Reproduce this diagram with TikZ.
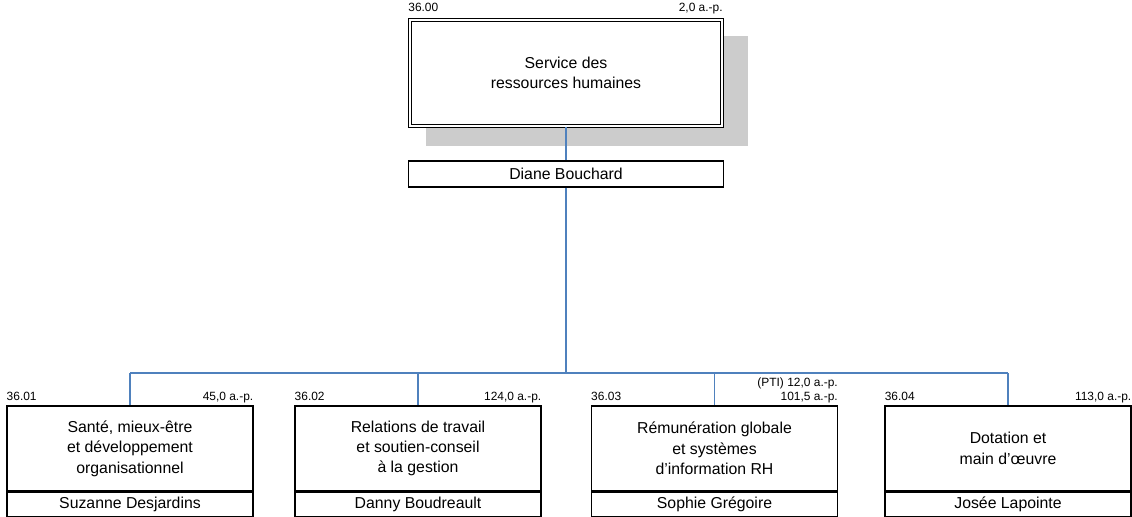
\documentclass[tikz,border=0pt]{standalone}
\usepackage{fontspec}
\setmainfont{Liberation Sans}
\usetikzlibrary{shadows}
\definecolor{linkblue}{RGB}{79,129,189}
\definecolor{shadowgray}{RGB}{204,204,204}

\begin{document}
\begin{tikzpicture}[
    unitbox/.style={draw, line width=0.7pt, minimum width=4.92cm, minimum height=1.70cm, align=center, inner sep=0pt, font=\fontsize{9}{11.6}\selectfont},
    namebox/.style={draw, line width=0.7pt, minimum width=4.92cm, minimum height=0.48cm, inner sep=0pt, font=\fontsize{9}{11}\selectfont},
    codelabel/.style={inner sep=0pt, font=\fontsize{6.8}{8}\selectfont},
    link/.style={draw=linkblue, line width=0.8pt}]
  \useasboundingbox (0,0) rectangle (22.64,-10.34);
  % direction
  \node (hr) at (11.32,-1.46) [draw, fill=white, double, double distance=1.2pt, line width=0.7pt, minimum width=6.24cm, minimum height=2.12cm, align=center, font=\fontsize{9}{11.6}\selectfont,
    drop shadow={shadow xshift=0.41cm, shadow yshift=-0.35cm, shadow scale=1.03, fill=shadowgray, opacity=1}] {Service des\\ressources humaines};
  \node (hrcode) [codelabel, anchor=base west] at (8.16,-0.24) {36.00};
  \node (hrap) [codelabel, anchor=base east] at (14.46,-0.24) {2,0 a.-p.};
  \node (boss) at (11.32,-3.48) [draw, line width=0.7pt, minimum width=6.30cm, minimum height=0.52cm, inner sep=0pt, font=\fontsize{9}{11}\selectfont] {Diane Bouchard};
  % divisions
  \node (sante) at (2.60,-8.97) [unitbox] {Santé, mieux-être\\et développement\\organisationnel};
  \node (sante-n) [namebox, anchor=north] at (sante.south) {Suzanne Desjardins};
  \node (relations) at (8.36,-8.97) [unitbox] {Relations de travail\\et soutien-conseil\\à la gestion};
  \node (relations-n) [namebox, anchor=north] at (relations.south) {Danny Boudreault};
  \node (remun) at (14.29,-8.97) [unitbox] {Rémunération globale\\et systèmes\\d’information RH};
  \node (remun-n) [namebox, anchor=north] at (remun.south) {Sophie Grégoire};
  \node (dotation) at (20.16,-8.97) [unitbox] {Dotation et\\main d’œuvre};
  \node (dotation-n) [namebox, anchor=north] at (dotation.south) {Josée Lapointe};
  % codes and budgets
  \node (sante-c) [codelabel, anchor=base west] at ([yshift=0.1cm]sante.north west) {36.01};
  \node (sante-a) [codelabel, anchor=base east] at ([yshift=0.1cm]sante.north east) {45,0 a.-p.};
  \node (relations-c) [codelabel, anchor=base west] at ([yshift=0.1cm]relations.north west) {36.02};
  \node (relations-a) [codelabel, anchor=base east] at ([yshift=0.1cm]relations.north east) {124,0 a.-p.};
  \node (remun-c) [codelabel, anchor=base west] at ([yshift=0.1cm]remun.north west) {36.03};
  \node (remun-a) [codelabel, anchor=base east] at ([yshift=0.1cm]remun.north east) {101,5 a.-p.};
  \node (remun-p) [codelabel, anchor=base east] at ([yshift=0.38cm]remun.north east) {(PTI) 12,0 a.-p.};
  \node (dotation-c) [codelabel, anchor=base west] at ([yshift=0.1cm]dotation.north west) {36.04};
  \node (dotation-a) [codelabel, anchor=base east] at ([yshift=0.1cm]dotation.north east) {113,0 a.-p.};
  % connectors
  \coordinate (bus) at (11.32,-7.46);
  \draw[link] (hr.south) -- (boss.north);
  \draw[link] (boss.south) -- (bus);
  \draw[link] (sante.north |- bus) -- (dotation.north |- bus);
  \foreach \unit in {sante, relations, remun, dotation}
    \draw[link] (\unit.north |- bus) -- (\unit.north);
\end{tikzpicture}
\end{document}
